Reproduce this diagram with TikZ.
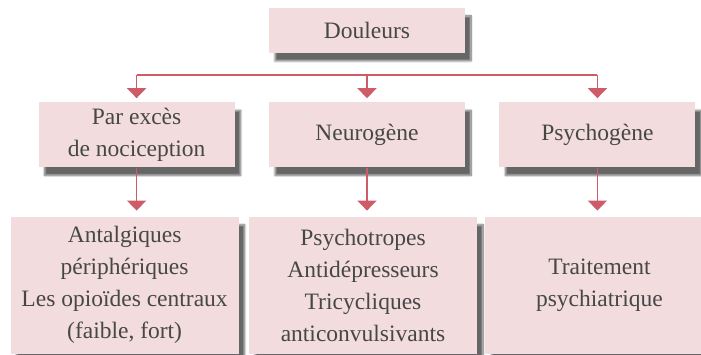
\documentclass[tikz,border=0pt]{standalone}
\usepackage{fontspec}
\setmainfont{Liberation Serif}
\usetikzlibrary{arrows.meta, positioning, shadows.blur}
\definecolor{boxpink}{HTML}{F2DCDD}
\definecolor{linkred}{HTML}{CE5B68}
\definecolor{textgrey}{HTML}{474747}
\tikzset{
  box/.style = {
    fill=boxpink, text=textgrey, align=center, inner sep=0pt,
    font=\fontsize{23.5}{32}\selectfont,
    blur shadow={shadow xshift=6pt, shadow yshift=-8pt,
                 shadow opacity=60, shadow blur steps=12},
  },
  head box/.style = {box, minimum width=196pt, minimum height=45pt},
  kind box/.style = {box, minimum width=196pt, minimum height=65pt},
  cure box/.style = {box, minimum width=228pt, minimum height=137pt},
  bus/.style = {line width=1.4pt, linkred},
  link/.style = {bus, arrows={-Triangle[width=19pt, length=10pt]}},
}

\begin{document}
\begin{tikzpicture}
  \useasboundingbox (0pt, 0pt) rectangle (701pt, -355pt);

  %% Root of the tree
  \node [head box] (douleurs) at (367pt, -30.5pt) {Douleurs};

  %% The three kinds of pain
  \node [kind box, below=49pt of douleurs] (neuro) {Neurog\`ene};
  \node [kind box, left=34pt of neuro] (exces) {Par exc\`es\\de nociception};
  \node [kind box, right=34pt of neuro] (psycho) {Psychog\`ene};

  %% The treatments
  \node [cure box, below=49pt of neuro, xshift=-4pt] (psychotropes)
        {Psychotropes\\Antid\'epresseurs\\Tricycliques\\anticonvulsivants};
  \node [cure box, left=10pt of psychotropes] (antalgiques)
        {Antalgiques\\p\'eriph\'eriques\\Les opio\"ides centraux\\(faible, fort)};
  \node [cure box, right=8pt of psychotropes] (traitement)
        {Traitement\\psychiatrique};

  %% Branching line below the root
  \coordinate [below=22pt of douleurs.south] (fork);
  \draw [bus] (fork -| exces) -- (fork -| psycho);
  \foreach \kind in {exces, neuro, psycho}{%
    \draw [link, shorten >=4pt] (fork -| \kind) -- (\kind.north);
  }

  %% From each kind down to its treatment
  \draw [link, shorten >=6pt] (exces.south) -- (exces.south |- antalgiques.north);
  \draw [link, shorten >=6pt] (neuro.south) -- (neuro.south |- psychotropes.north);
  \draw [link, shorten >=6pt] (psycho.south) -- (psycho.south |- traitement.north);
\end{tikzpicture}
\end{document}
